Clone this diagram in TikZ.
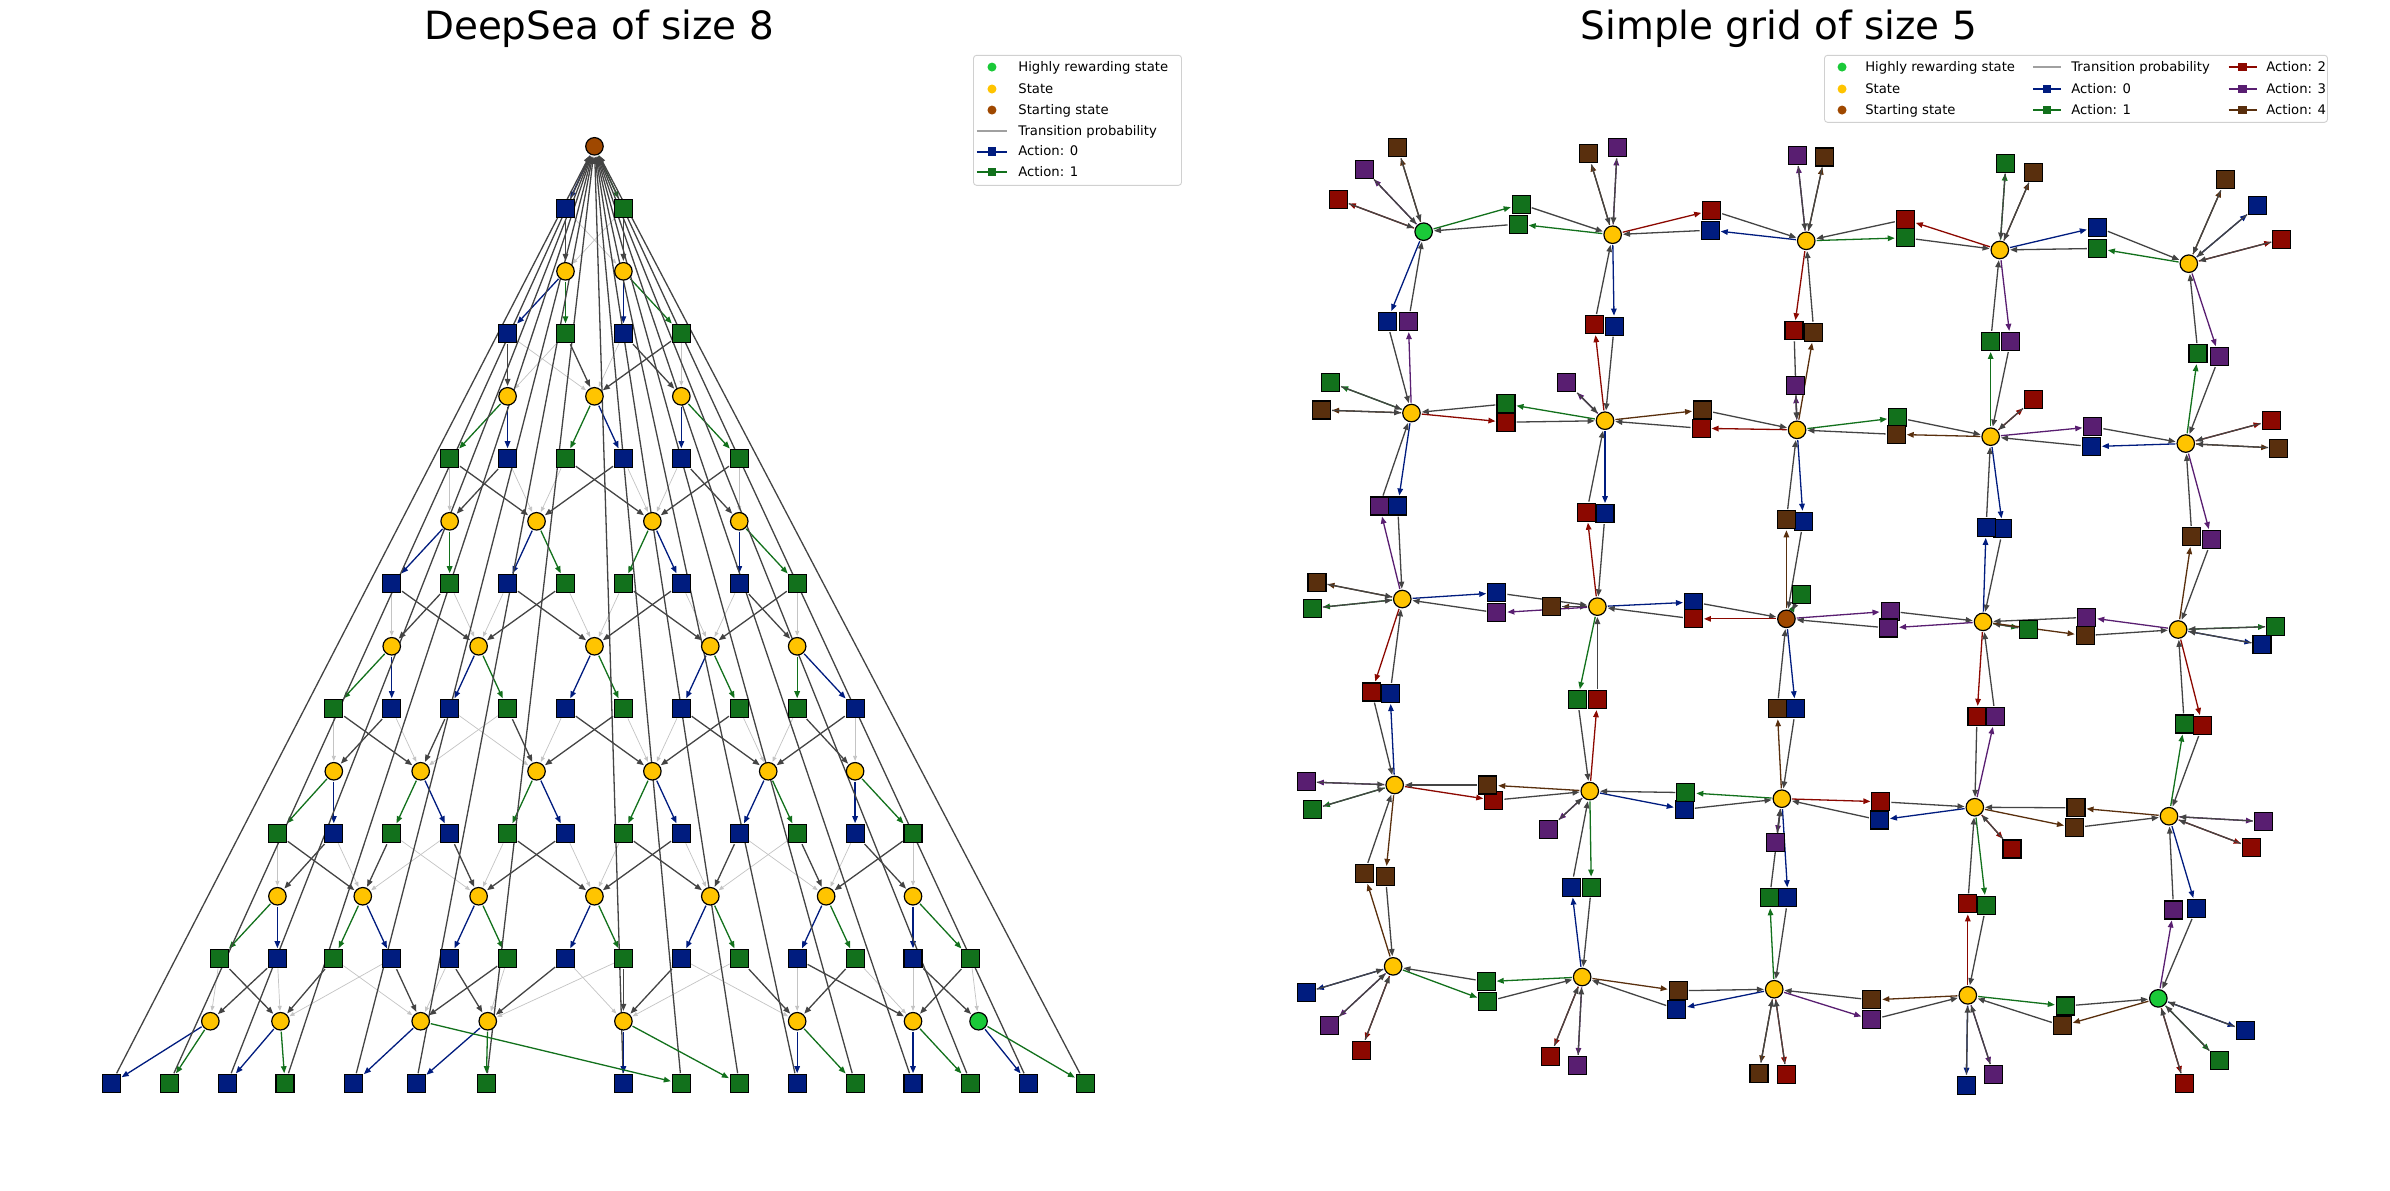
\documentclass[tikz,border=0pt]{standalone}
\usepackage{fontspec}
\setmainfont{DejaVu Sans}
\usetikzlibrary{arrows.meta}
\definecolor{cHigh}{HTML}{1AC938}
\definecolor{cState}{HTML}{FFC400}
\definecolor{cStart}{HTML}{9F4800}
\definecolor{cA0}{HTML}{001C7F}
\definecolor{cA1}{HTML}{12711C}
\definecolor{cA2}{HTML}{8C0800}
\definecolor{cA3}{HTML}{591E71}
\definecolor{cA4}{HTML}{592F0D}
\definecolor{cEdge}{HTML}{444444}
\definecolor{cFaint}{HTML}{C4C4C4}
\definecolor{cProb}{HTML}{A0A0A0}
\definecolor{cFrame}{HTML}{D0D0D0}
\pgfdeclarelayer{edges}
\pgfsetlayers{edges,main}
\tikzset{
  state/.style={circle, draw=black, line width=1.2pt, fill=#1, minimum size=17.5pt, inner sep=0pt},
  act/.style={rectangle, draw=black, line width=1.1pt, fill=#1, minimum size=18pt, inner sep=0pt},
  move/.style={-{Triangle[length=7pt,width=5.5pt]}, line width=1.3pt, draw=#1, shorten >=1pt, shorten <=1pt},
  hop/.style={move=cEdge},
  faint/.style={-{Triangle[length=5pt,width=4pt]}, line width=0.7pt, draw=cFaint, shorten >=1pt},
  ttl/.style={font=\fontsize{38.9}{46}\selectfont, anchor=base, inner sep=0pt},
  key/.style={font=\fontsize{13.2}{16}\selectfont, anchor=base west, inner sep=0pt},
  frame/.style={rounded corners=3pt, draw=cFrame, line width=0.9pt, fill=white, anchor=north west},
  dot/.style={circle, fill=#1, minimum size=9pt, inner sep=0pt},
  keysq/.style={rectangle, fill=#1, minimum size=8.5pt, inner sep=0pt},
  keyline/.style={line width=2pt, draw=#1},
}
\begin{document}
\begin{tikzpicture}[x=1.5242pt, y=-1.5242pt]
\begin{pgfonlayer}{edges}
  \fill[white] (0,0) rectangle (1568,781);
\end{pgfonlayer}
\useasboundingbox (0,0) rectangle (1568,781);

\node[ttl] (deepTitle) at (393,26) {DeepSea of size 8};
\node[ttl] (gridTitle) at (1167,26) {Simple grid of size 5};

% DeepSea states
\node[state=cStart] (s0-0) at (390,96) {};
\foreach \r/\row in {1/{371,409},2/{333,390,447},3/{295,352,428,485},4/{257,314,390,466,523},
    5/{219,276,352,428,504,561},6/{182,238,314,390,466,542,599}} {
  \foreach \x [count=\i from 0] in \row
    \node[state=cState] (s\r-\i) at (\x,{96+82*\r}) {};
}
\foreach \x/\c [count=\i from 0] in {138/cState,184/cState,276/cState,320/cState,409/cState,523/cState,599/cState,642/cHigh}
  \node[state=\c] (s7-\i) at (\x,670) {};

% DeepSea actions: x / colour / which child gets the likely move
\foreach \r/\row in {
    1/{371/cA0/0,409/cA1/1},
    2/{333/cA0/0,371/cA1/1,409/cA0/1,447/cA1/0},
    3/{295/cA1/1,333/cA0/0,371/cA1/1,409/cA0/0,447/cA0/1,485/cA1/0},
    4/{257/cA0/1,295/cA1/0,333/cA0/1,371/cA1/0,409/cA1/1,447/cA0/0,485/cA0/1,523/cA1/0},
    5/{219/cA1/1,257/cA0/0,295/cA0/0,333/cA1/1,371/cA0/1,409/cA1/0,447/cA0/1,485/cA1/0,523/cA1/1,561/cA0/0},
    6/{182/cA1/1,219/cA0/0,257/cA1/0,295/cA0/1,333/cA1/1,371/cA0/0,409/cA1/1,447/cA0/0,485/cA0/0,523/cA1/1,561/cA0/1,599/cA1/0},
    7/{144/cA1/1,182/cA0/0,219/cA1/0,257/cA0/1,295/cA0/1,333/cA1/0,371/cA0/0,409/cA1/1,447/cA0/0,485/cA1/1,523/cA0/1,561/cA1/0,599/cA0/1,637/cA1/0}} {
  \foreach \x/\c/\o [count=\j from 0] in \row {
    \pgfmathtruncatemacro\pidx{\j/2}
    \pgfmathtruncatemacro\prow{\r-1}
    \pgfmathtruncatemacro\didx{\pidx+\o}
    \pgfmathtruncatemacro\fidx{\pidx+1-\o}
    \node[act=\c] (q\r-\j) at (\x,{55+82*\r}) {};
    \begin{pgfonlayer}{edges}
      \draw[faint] (q\r-\j) -- (s\r-\fidx);
      \draw[hop] (q\r-\j) -- (s\r-\didx);
      \draw[move=\c] (s\prow-\pidx) -- (q\r-\j);
    \end{pgfonlayer}
  }
}
% last actions lead back to the start
\foreach \x/\c/\pidx [count=\j from 0] in {73/cA0/0,111/cA1/0,149/cA0/1,187/cA1/1,232/cA0/2,273/cA0/3,319/cA1/3,409/cA0/4,
    447/cA1/2,485/cA1/4,523/cA0/5,561/cA1/5,599/cA0/6,637/cA1/6,675/cA0/7,712/cA1/7} {
  \node[act=\c] (q8-\j) at (\x,711) {};
  \begin{pgfonlayer}{edges}
    \draw[hop] (q8-\j) -- (s0-0);
    \draw[move=\c] (s7-\pidx) -- (q8-\j);
  \end{pgfonlayer}
}

% grid states
\foreach \n/\x/\y/\c in {11/934/152/cHigh,12/1058/154/cState,13/1185/158/cState,14/1312/164/cState,15/1436/173/cState,
    21/926/271/cState,22/1053/276/cState,23/1179/282/cState,24/1306/286.5/cState,25/1434/291/cState,
    31/920/393/cState,32/1048/398/cState,33/1172/406/cStart,34/1301/408/cState,35/1429/413/cState,
    41/915/515/cState,42/1043/519/cState,43/1169/524/cState,44/1295.6/529.6/cState,45/1423/535.5/cState,
    51/914/634/cState,52/1038/641/cState,53/1164/649/cState,54/1291/653/cState,55/1416/655/cHigh}
  \node[state=\c] (g\n) at (\x,\y) {};

% grid actions: x / y / colour / from / to
\foreach \x/\y/\c/\o/\d [count=\k] in {
    917/97/cA4/11/11,895/111/cA3/11/11,878/131/cA2/11/11,998/134/cA1/11/12,910/211/cA0/11/21,
    1042/101/cA4/12/12,1061/97/cA3/12/12,996/147/cA1/12/11,1123/138/cA2/12/13,1059/214/cA0/12/22,
    1179/102/cA3/13/13,1197/103/cA4/13/13,1122/151/cA0/13/12,1250/156/cA1/13/14,1177/217/cA2/13/23,
    1316/107/cA1/14/14,1334/113/cA4/14/14,1250/144/cA2/14/13,1376/149/cA0/14/15,1319/224/cA3/14/24,
    1460/118/cA4/15/15,1481/135/cA0/15/15,1497/157/cA2/15/15,1376/163/cA1/15/14,1456/234/cA3/15/25,
    873/251/cA1/21/21,867/269/cA4/21/21,924/211/cA3/21/11,988/277/cA2/21/22,917/332/cA0/21/31,
    1028/251/cA3/22/22,1046/213/cA2/22/12,988/265/cA1/22/21,1117/269/cA4/22/23,1053/337/cA0/22/32,
    1178/253/cA3/23/23,1190/218/cA4/23/13,1116/281/cA2/23/22,1245/274/cA1/23/24,1183/342/cA0/23/33,
    1334/262/cA2/24/24,1306/224/cA1/24/14,1244/285/cA4/24/23,1373/280/cA3/24/25,1314/347/cA0/24/34,
    1490/276/cA2/25/25,1495/294/cA4/25/25,1442/232/cA1/25/15,1372/293/cA0/25/24,1451/354/cA3/25/35,
    864/382/cA4/31/31,861/399/cA1/31/31,905/332/cA3/31/21,982/389/cA0/31/32,900/454/cA2/31/41,
    1018/398/cA4/32/32,1041/336/cA2/32/22,982/402/cA3/32/31,1111/395/cA0/32/33,1035/459/cA1/32/42,
    1182/390/cA1/33/33,1172/341/cA4/33/23,1111/406/cA2/33/32,1240/401/cA3/33/34,1178/465/cA0/33/43,
    1331/413/cA1/34/34,1303/346/cA0/34/24,1239/412/cA3/34/33,1368/417/cA4/34/35,1297/470/cA2/34/44,
    1493/411/cA1/35/35,1484/423/cA0/35/35,1369/405/cA3/35/34,1438/352/cA4/35/25,1445/476/cA2/35/45,
    857/513/cA3/41/41,861/531/cA1/41/41,912/455/cA0/41/31,980/525/cA2/41/42,909/575/cA4/41/51,
    1016/544/cA3/42/42,1048/459/cA2/42/32,976/515/cA4/42/41,1105/531/cA0/42/43,1044/582/cA1/42/52,
    1165/553/cA3/43/43,1166/465/cA4/43/33,1106/520/cA1/43/42,1234/526/cA2/43/44,1173/589/cA0/43/53,
    1320/557/cA2/44/44,1309/470/cA3/44/34,1233/538/cA0/44/43,1361/543/cA4/44/45,1303/594/cA1/44/54,
    1485/539/cA3/45/45,1477/556/cA2/45/45,1433/475/cA1/45/35,1362/530/cA4/45/44,1441/596/cA0/45/55,
    857/651/cA0/51/51,872/673/cA3/51/51,893/689/cA2/51/51,895/573/cA4/51/41,976/657/cA1/51/52,
    1017/693/cA2/52/52,1035/699/cA3/52/52,1031/582/cA0/52/42,975/644/cA1/52/51,1101/650/cA4/52/53,
    1154/704/cA4/53/53,1172/705/cA2/53/53,1161/589/cA1/53/43,1100/662/cA0/53/52,1228/669/cA3/53/54,
    1290/712/cA0/54/54,1308/705/cA3/54/54,1291/593/cA2/54/44,1228/656/cA4/54/53,1355/660/cA1/54/55,
    1473/676/cA0/55/55,1456/696/cA1/55/55,1433/711/cA2/55/55,1426/597/cA3/55/45,1353/673/cA4/55/54} {
  \node[act=\c] (b\k) at (\x,\y) {};
  \begin{pgfonlayer}{edges}
    \draw[move=\c] (g\o) -- (b\k);
    \draw[hop] (b\k) -- (g\d);
  \end{pgfonlayer}
}

% legends
\node[frame, minimum width=208pt, minimum height=130pt] (deepKey) at (638.4,36) {};
\node[dot=cHigh] (dk1) at (650.8,44) {};
\node[dot=cState] (dk2) at (650.8,58.4) {};
\node[dot=cStart] (dk3) at (650.8,72.2) {};
\coordinate (dk4) at (650.8,86);
\coordinate (dk5) at (650.8,99.5);
\coordinate (dk6) at (650.8,113);
\draw[keyline=cProb] ([xshift=-15pt]dk4) -- ([xshift=15pt]dk4);
\draw[keyline=cA0] ([xshift=-15pt]dk5) -- ([xshift=15pt]dk5);
\draw[keyline=cA1] ([xshift=-15pt]dk6) -- ([xshift=15pt]dk6);
\node[keysq=cA0] (dm5) at (dk5) {};
\node[keysq=cA1] (dm6) at (dk6) {};
\node[key] (dt1) at (668,46.8) {Highly rewarding state};
\node[key] (dt2) at (668,61.2) {State};
\node[key] (dt3) at (668,75) {Starting state};
\node[key] (dt4) at (668,88.8) {Transition probability};
\node[key] (dt5) at (668,102.3) {Action: 0};
\node[key] (dt6) at (668,115.8) {Action: 1};

\node[frame, minimum width=503pt, minimum height=67pt] (gridKey) at (1196.7,36) {};
\node[dot=cHigh] (gk1) at (1208.5,44) {};
\node[dot=cState] (gk2) at (1208.5,58.4) {};
\node[dot=cStart] (gk3) at (1208.5,72.2) {};
\coordinate (gk4) at (1343,44);
\coordinate (gk5) at (1343,58.4);
\coordinate (gk6) at (1343,72.2);
\coordinate (gk7) at (1471.3,44);
\coordinate (gk8) at (1471.3,58.4);
\coordinate (gk9) at (1471.3,72.2);
\draw[keyline=cProb] ([xshift=-14pt]gk4) -- ([xshift=14pt]gk4);
\draw[keyline=cA0] ([xshift=-14pt]gk5) -- ([xshift=14pt]gk5);
\draw[keyline=cA1] ([xshift=-14pt]gk6) -- ([xshift=14pt]gk6);
\draw[keyline=cA2] ([xshift=-14pt]gk7) -- ([xshift=14pt]gk7);
\draw[keyline=cA3] ([xshift=-14pt]gk8) -- ([xshift=14pt]gk8);
\draw[keyline=cA4] ([xshift=-14pt]gk9) -- ([xshift=14pt]gk9);
\node[keysq=cA0] (gm5) at (gk5) {};
\node[keysq=cA1] (gm6) at (gk6) {};
\node[keysq=cA2] (gm7) at (gk7) {};
\node[keysq=cA3] (gm8) at (gk8) {};
\node[keysq=cA4] (gm9) at (gk9) {};
\node[key] (gt1) at (1223.6,46.8) {Highly rewarding state};
\node[key] (gt2) at (1223.6,61.2) {State};
\node[key] (gt3) at (1223.6,75) {Starting state};
\node[key] (gt4) at (1358.8,46.8) {Transition probability};
\node[key] (gt5) at (1358.8,61.2) {Action: 0};
\node[key] (gt6) at (1358.8,75) {Action: 1};
\node[key] (gt7) at (1486.7,46.8) {Action: 2};
\node[key] (gt8) at (1486.7,61.2) {Action: 3};
\node[key] (gt9) at (1486.7,75) {Action: 4};
\end{tikzpicture}
\end{document}
